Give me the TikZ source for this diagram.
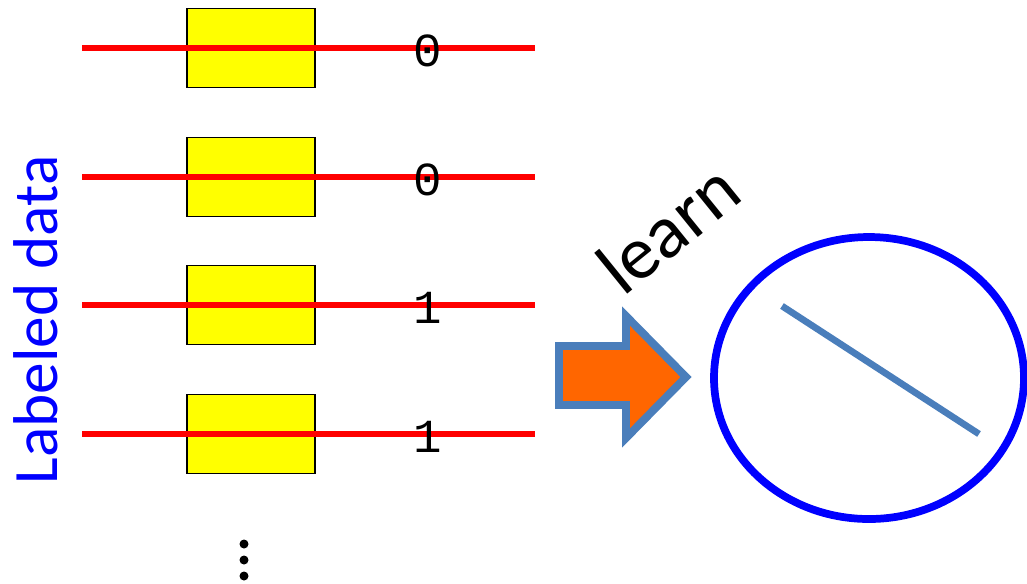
\documentclass[tikz,border=0pt]{standalone}
\usepackage{fontspec}
\setmainfont{Carlito}
\newfontfamily\digitfont{Liberation Mono}
\usepackage{tikz}
\definecolor{wireRed}{HTML}{FF0000}
\definecolor{boxYellow}{HTML}{FFFF00}
\definecolor{steelBlue}{HTML}{4A7EBB}
\definecolor{arrowOrange}{HTML}{FF6600}
\definecolor{modelBlue}{HTML}{0000FF}
\tikzset{
  samplebox/.style={
    draw=black,
    fill=boxYellow,
    line width=1.1pt,
    minimum width=2.56cm,
    minimum height=1.58cm,
    inner sep=0pt
  },
  wire/.style={
    draw=wireRed,
    line width=2.9pt
  },
  labeltext/.style={
    font=\digitfont\fontsize{27}{27}\selectfont,
    inner sep=0pt
  },
  dotmark/.style={
    circle,
    fill=black,
    minimum size=0.18cm,
    inner sep=0pt
  }
}

\begin{document}
\begin{tikzpicture}[x=0.02cm, y=-0.02cm]
    \useasboundingbox (0,0) rectangle (1027,583);

    % samples with their labels
    \foreach \row/\ypos/\lbl in {1/48/0, 2/177/0, 3/305/1, 4/434/1} {
        \node[samplebox] (box\row) at (251,\ypos) {};
        \coordinate (wirestart\row) at (82,\ypos);
        \coordinate (wireend\row) at (535,\ypos);
        \draw[wire] (wirestart\row) -- (wireend\row);
        \node[labeltext] (lbl\row) at (428,\ypos+3) {\lbl};
    }

    % more samples below
    \node[dotmark] (dotA) at (244,544) {};
    \node[dotmark] (dotB) at (244,560) {};
    \node[dotmark] (dotC) at (244,576) {};

    \node[rotate=90, text=modelBlue, font=\fontsize{36}{36}\selectfont, inner sep=0pt] (datalabel) at (36,320) {Labeled data};

    % learning step
    \draw[draw=steelBlue, fill=arrowOrange, line width=4.5pt, miter limit=10]
        (559,346) -- (626,346) -- (626,316) -- (686,377) -- (626,438) -- (626,405) -- (559,405) -- cycle;
    \node[rotate=39, font=\fontsize{43}{43}\selectfont, inner sep=0pt] (learnlabel) at (668,228) {learn};

    % learned model
    \draw[draw=modelBlue, line width=4.4pt] (869,378) ellipse [x radius=155, y radius=141];
    \coordinate (splitA) at (782,306);
    \coordinate (splitB) at (979,434);
    \draw[draw=steelBlue, line width=3.8pt] (splitA) -- (splitB);
\end{tikzpicture}
\end{document}
